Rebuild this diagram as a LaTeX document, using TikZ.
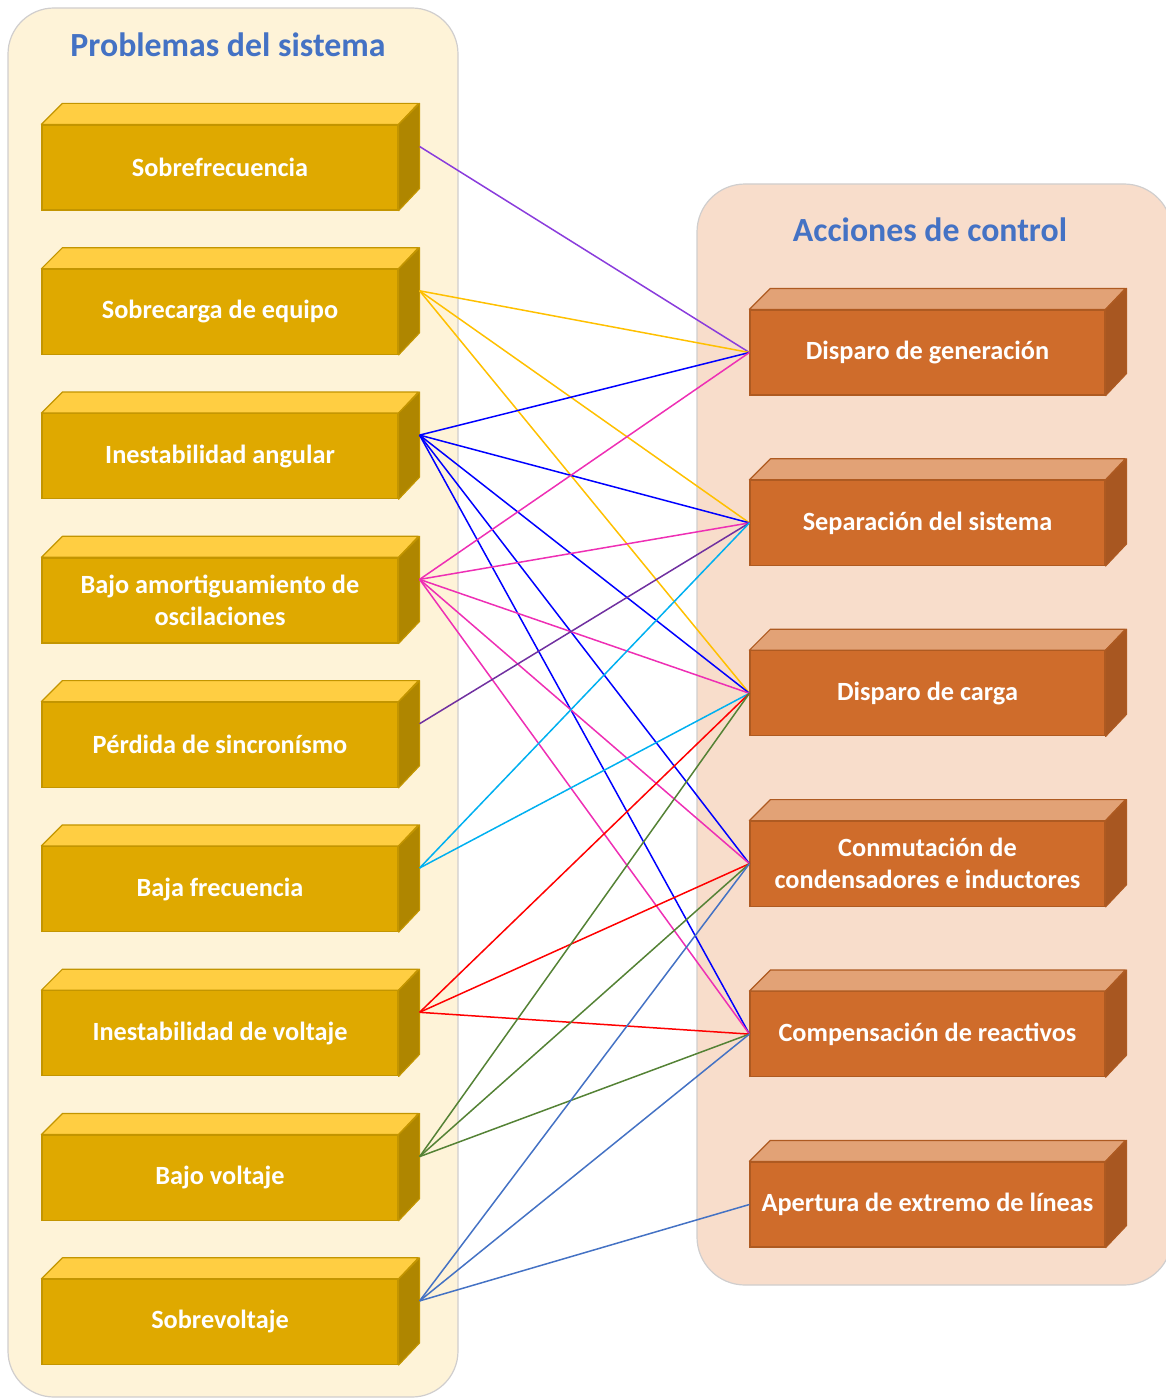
\documentclass[tikz,border=0pt]{standalone}
\usepackage{fontspec}
\setmainfont{Carlito}
\definecolor{cLPanel}{HTML}{FEF3D8}
\definecolor{cRPanel}{HTML}{F8DDCB}
\definecolor{cPanelBorder}{HTML}{D0CECE}
\definecolor{cLFront}{HTML}{DFA900}
\definecolor{cLTop}{HTML}{FFCE42}
\definecolor{cLSide}{HTML}{AF8600}
\definecolor{cLBorder}{HTML}{C39500}
\definecolor{cRFront}{HTML}{CF6C2B}
\definecolor{cRTop}{HTML}{E2A276}
\definecolor{cRSide}{HTML}{A85721}
\definecolor{cRBorder}{HTML}{AE5A21}
\definecolor{cTitle}{HTML}{4472C4}
\definecolor{cPurple}{HTML}{8A3CDC}
\definecolor{cGold}{HTML}{FFC000}
\definecolor{cBlue}{HTML}{0000FF}
\definecolor{cMagenta}{HTML}{EE2FB4}
\definecolor{cDPurple}{HTML}{7030A0}
\definecolor{cCyan}{HTML}{00B0F0}
\definecolor{cRed}{HTML}{FF0000}
\definecolor{cGreen}{HTML}{548235}
\definecolor{cSteel}{HTML}{4472C4}
\tikzset{
  lblock/.style={draw=cLBorder, fill=cLFront, line width=1.2pt, minimum width=356pt, minimum height=85pt, inner sep=0pt, text=white, align=center, font=\fontsize{26.3}{32}\selectfont\bfseries},
  rblock/.style={draw=cRBorder, fill=cRFront, line width=1.2pt, minimum width=355pt, minimum height=85pt, inner sep=0pt, text=white, align=center, font=\fontsize{26.3}{32}\selectfont\bfseries},
  paneltitle/.style={text=cTitle, font=\fontsize{33.8}{40}\selectfont\bfseries},
  link/.style={line width=1.5pt},
}
\newcommand\leftblock[3]{%
  \node[lblock] (#1) at (220,#2) {#3};
  \filldraw[fill=cLTop, draw=cLBorder, line width=1.2pt, line join=round] (#1.north west) -- ++(21,-21) -- ++(356,0) -- (#1.north east) -- cycle;
  \filldraw[fill=cLSide, draw=cLBorder, line width=1.2pt, line join=round] (#1.north east) -- ++(21,-21) -- ++(0,85) -- (#1.south east) -- cycle;
  \coordinate (#1p) at ([shift={(21,-21)}]#1.east);
}
\newcommand\rightblock[3]{%
  \node[rblock] (#1) at (927.5,#2) {#3};
  \filldraw[fill=cRTop, draw=cRBorder, line width=1.2pt, line join=round] (#1.north west) -- ++(21,-21) -- ++(355,0) -- (#1.north east) -- cycle;
  \filldraw[fill=cRSide, draw=cRBorder, line width=1.2pt, line join=round] (#1.north east) -- ++(21,-21) -- ++(0,85) -- (#1.south east) -- cycle;
}
\begin{document}
\begin{tikzpicture}[x=1pt,y=-1pt]
\useasboundingbox (0,0) rectangle (1166,1399);
\clip (0,0) rectangle (1166,1399);
% panels
\filldraw[fill=cLPanel, draw=cPanelBorder, line width=1.2pt, rounded corners=46pt] (8,8) rectangle (458,1397);
\filldraw[fill=cRPanel, draw=cPanelBorder, line width=1.2pt, rounded corners=48pt] (697,184) rectangle (1172,1285);
\node[paneltitle] (t1) at (228,45) {Problemas del sistema};
\node[paneltitle] (t2) at (930,230) {Acciones de control};
% left blocks
\leftblock{L1}{167.5}{Sobrefrecuencia}
\leftblock{L2}{311.8}{Sobrecarga de equipo}
\leftblock{L3}{456.1}{Inestabilidad angular}
\leftblock{L4}{600.4}{Bajo amortiguamiento de\\oscilaciones}
\leftblock{L5}{744.7}{Pérdida de sincronísmo}
\leftblock{L6}{889.0}{Baja frecuencia}
\leftblock{L7}{1033.3}{Inestabilidad de voltaje}
\leftblock{L8}{1177.6}{Bajo voltaje}
\leftblock{L9}{1321.9}{Sobrevoltaje}
% right blocks
\rightblock{R1}{352.5}{Disparo de generación}
\rightblock{R2}{522.9}{Separación del sistema}
\rightblock{R3}{693.3}{Disparo de carga}
\rightblock{R4}{863.7}{Conmutación de\\condensadores e inductores}
\rightblock{R5}{1034.1}{Compensación de reactivos}
\rightblock{R6}{1204.5}{Apertura de extremo de líneas}
% links
\draw[link, cPurple] (L1p) -- (R1.west);
\foreach \r in {R1,R2,R3} \draw[link, cGold] (L2p) -- (\r.west);
\foreach \r in {R1,R2,R3,R4,R5} \draw[link, cBlue] (L3p) -- (\r.west);
\foreach \r in {R1,R2,R3,R4,R5} \draw[link, cMagenta] (L4p) -- (\r.west);
\draw[link, cDPurple] (L5p) -- (R2.west);
\foreach \r in {R2,R3} \draw[link, cCyan] (L6p) -- (\r.west);
\foreach \r in {R3,R4,R5} \draw[link, cRed] (L7p) -- (\r.west);
\foreach \r in {R3,R4,R5} \draw[link, cGreen] (L8p) -- (\r.west);
\foreach \r in {R4,R5,R6} \draw[link, cSteel] (L9p) -- (\r.west);
\end{tikzpicture}
\end{document}
